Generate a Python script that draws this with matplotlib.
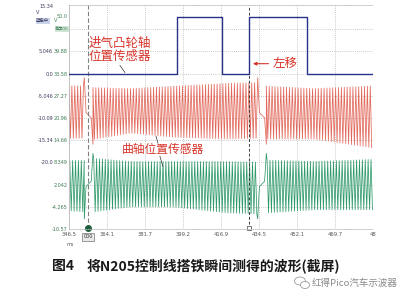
import numpy as np
import matplotlib
matplotlib.use("Agg")
import matplotlib.pyplot as plt
from matplotlib.patches import Ellipse
from matplotlib.transforms import blended_transform_factory

plt.rcParams["font.family"] = ["DejaVu Sans", "Noto Sans CJK SC"]
CJK = ["Noto Sans CJK SC", "DejaVu Sans"]

# ---- data ----
# time axis (ms)
x_ticks = [346.5, 364.1, 381.7, 399.2, 416.9, 434.5, 452.1, 469.7, 487.3]
x_tick_labels = ["346.5", "364.1", "381.7", "399.2", "416.9", "434.5", "452.1", "469.7", "48"]

# right-hand (green) scale, used for the two crank channels
g_ticks = [-10.57, -4.265, 2.042, 8.349, 14.66, 20.96, 27.27, 33.58, 39.88, 46.19]
g_labels = ["-10.57", "-4.265", "2.042", "8.349", "14.66", "20.96", "27.27", "33.58", "39.88", ""]
g_top = 53.07

# left-hand (blue) scale, used for the cam channel
b_ticks = [15.34, 5.046, 0.0, -5.046, -10.09, -15.14, -20.18]
b_labels = ["15.34", "5.046", "0.0", "-5.046", "-10.09", "-15.34", "-20.0"]

# camshaft sensor (blue), step trace
cam_edge_ms = [346.5, 396.5, 417.4, 429.9, 456.7, 487.3]
cam_level_v = [0.0, 12.8, 0.0, 12.8, 0.0, 0.0]

# crankshaft sensor: tooth period, missing-tooth gaps and envelope
tooth_ms = 1.337
gap_start_ms = [353.6, 433.9]
gap_len_ms = 4.0
env_ms = [346.5, 354.0, 358.0, 375.0, 395.0, 420.0, 434.0, 438.0, 460.0, 487.3]
red_top = [30.1, 30.1, 29.6, 29.3, 30.0, 30.8, 31.0, 30.0, 29.3, 30.1]
red_bot = [15.2, 15.2, 14.9, 16.7, 15.5, 15.0, 15.2, 15.0, 15.0, 12.5]
grn_top = [8.9, 8.9, 9.5, 8.6, 8.6, 8.6, 8.4, 9.0, 8.6, 9.2]
grn_bot = [-5.4, -5.7, -5.7, -4.3, -4.3, -6.0, -6.3, -6.0, -5.1, -5.1]
# values at the gap: spike before, mid slope, spike after
red_gap = [32.4, 22.5, 21.0, 13.5]
grn_gap = [-7.7, 1.5, 3.0, 10.9]

cursor1_ms = 355.3
cursor2_ms = 429.9


def crank_wave(top, bot, gap_vals, phase):
    seg_start = [346.5] + [g + gap_len_ms for g in gap_start_ms]
    seg_end = gap_start_ms + [487.3]
    ts, vs = [], []
    for i, (s, e) in enumerate(zip(seg_start, seg_end)):
        t = np.arange(s + phase, e, tooth_ms / 2)
        hi = np.interp(t, env_ms, top)
        lo = np.interp(t, env_ms, bot)
        v = np.where(np.arange(len(t)) % 2 == 0, hi, lo)
        ts.extend(t)
        vs.extend(v)
        if i < len(gap_start_ms):
            g = gap_start_ms[i]
            ts.extend([g, g + 0.8, g + gap_len_ms - 0.8, g + gap_len_ms])
            vs.extend(gap_vals)
    return np.array(ts), np.array(vs)


fig = plt.figure(figsize=(4.12, 2.95), dpi=100)
ax = fig.add_axes([69 / 412, 1 - 229 / 295, 304 / 412, 224 / 295])
ax.set_xlim(346.5, 487.3)
ax.set_ylim(-10.57, g_top)

# grid
ax.set_xticks(x_ticks, labels=x_tick_labels)
ax.set_yticks(g_ticks, labels=g_labels)
ax.set_yticks([50.0], labels=["50.0"], minor=True)
ax.grid(True, which="major", color="#b8b8b8", linestyle=(0, (1, 1.5)), linewidth=0.6)
ax.tick_params(axis="x", length=0, pad=2.5, labelsize=3.8, labelcolor="#555555")
ax.tick_params(axis="y", which="both", length=0, pad=1, labelsize=3.5, labelcolor="#3d7a52")
ax.spines["right"].set_visible(False)
ax.spines["left"].set_color("#bbbbbb")
ax.spines["left"].set_linewidth(0.6)
for s in ["top", "bottom"]:
    ax.spines[s].set_color("#b8b8b8")
    ax.spines[s].set_linewidth(0.6)
    ax.spines[s].set_linestyle((0, (1, 1.5)))

# crank channels
rt, rv = crank_wave(red_top, red_bot, red_gap, 0.0)
gt, gv = crank_wave(grn_top, grn_bot, grn_gap, 0.35)
ax.plot(rt, rv, color="#e2675a", lw=0.55)
ax.plot(gt, gv, color="#2e9968", lw=0.55)

# cam channel on its own scale
k = 5.046 / 6.307
ax2 = ax.twinx()
ax2.set_ylim((-10.57 - 33.58) * k, (g_top - 33.58) * k)
ax2.step(cam_edge_ms, cam_level_v, where="post", color="#27338a", lw=1.0)
ax2.yaxis.tick_left()
ax2.set_yticks(b_ticks, labels=b_labels)
ax2.tick_params(axis="y", length=0, pad=11.5, labelsize=3.5, labelcolor="#3a3a5c")
for s in ax2.spines.values():
    s.set_visible(False)

# cursors
ax.axvline(cursor1_ms, color="#808080", lw=0.8, ls=(0, (4, 2)))
ax.axvline(cursor2_ms, color="#404040", lw=0.7, ls=(0, (3, 2)))
ax.plot([cursor1_ms], [-10.3], marker="o", ms=4, color="#1f5e3b", clip_on=False)
ax.plot([cursor2_ms], [-10.3], marker="s", ms=2.5, mfc="white", mec="#404040",
        mew=0.5, clip_on=False)
trb = blended_transform_factory(ax.transData, fig.transFigure)
ax.text(cursor1_ms, 1 - 237 / 295, "000", transform=trb, fontsize=3.5, ha="center",
        va="center", color="#333333",
        bbox=dict(boxstyle="square,pad=0.25", fc="#e8e8e8", ec="#777777", lw=0.5))
fig.text(70 / 412, 1 - 244 / 295, "ms", fontsize=3.5, color="#555555", ha="center", va="center")

# small channel headers
fig.text(36 / 412, 1 - 13 / 295, "V", fontsize=3.6, color="#3a3a5c", va="center")
fig.text(36 / 412, 1 - 21 / 295, "蓝色中", fontsize=3.2, color="#3a3a5c", va="center",
         family=CJK, bbox=dict(boxstyle="square,pad=0.1", fc="#c9d3ea", ec="none"))
fig.text(54 / 412, 1 - 21 / 295, "V", fontsize=3.6, color="#3d7a52", va="center")
fig.text(55 / 412, 1 - 29 / 295, "高压(V)", fontsize=3.0, color="#3d7a52", va="center",
         family=CJK, bbox=dict(boxstyle="square,pad=0.1", fc="#cfe8d6", ec="none"))

# annotations
red = "#d8362c"
ax.text(355.5, 40.3, "进气凸轮轴\n位置传感器", family=CJK, fontsize=9, color=red,
        ha="left", va="center", linespacing=1.05)
ax.plot([370.1, 372.4], [35.9, 33.9], color="#333333", lw=0.5)
ax.text(371.0, 12.1, "曲轴位置传感器", family=CJK, fontsize=8.5, color=red,
        ha="left", va="center")
ax.plot([386.8, 387.7], [15.8, 13.8], color="#333333", lw=0.5)
ax.plot([388.6, 390.0], [10.1, 7.2], color="#333333", lw=0.5)
ax.annotate("", xy=(430.4, 36.4), xytext=(440.2, 36.4),
            arrowprops=dict(arrowstyle="-|>", color=red, lw=0.8, mutation_scale=5))
ax.text(441.0, 36.4, "左移", family=CJK, fontsize=9, color=red, ha="left", va="center")

# caption and watermark
fig.text(52 / 412, 1 - 266 / 295, "图4", family=CJK, fontsize=10, fontweight="bold",
         color="#1a1a1a", va="center")
fig.text(87 / 412, 1 - 266 / 295, "将N205控制线搭铁瞬间测得的波形(截屏)", family=CJK,
         fontsize=10, fontweight="bold", color="#1a1a1a", va="center")
fig.text(312 / 412, 1 - 283 / 295, "红得Pico汽车示波器", family=CJK, fontsize=6.8,
         color="#8a8a8a", va="center")
# small chat-bubble icon next to the watermark
for cx, cy, w, h in [(300, 281, 11, 8), (305, 285, 9, 7)]:
    fig.add_artist(Ellipse((cx / 412, 1 - cy / 295), w / 412, h / 295,
                           transform=fig.transFigure, fc="white", ec="#9a9a9a", lw=0.6))

fig.savefig("out.png", dpi=100)
